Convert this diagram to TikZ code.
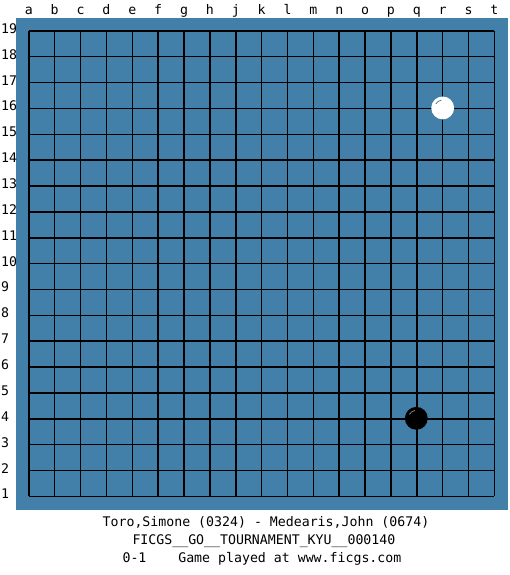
\documentclass[tikz,border=0pt]{standalone}
\usepackage{fontspec}
\setmonofont{DejaVu Sans Mono}
\definecolor{boardblue}{RGB}{66,128,170}
\tikzset{
  lbl/.style={font=\ttfamily\fontsize{13.3}{13.3}\selectfont,inner sep=0pt,anchor=base},
  stone/.style={circle,minimum size=23pt,inner sep=0pt}
}
\begin{document}
\begin{tikzpicture}[x=1pt,y=-1pt]
\useasboundingbox (0,0) rectangle (512,578);
\fill[boardblue] (16,18) rectangle (511,513);

\foreach \i in {0,...,18} {
  \draw[line width=1.5pt] (29+26*\i,31) -- (29+26*\i,499);
  \draw[line width=1.5pt] (29,31+26*\i) -- (497,31+26*\i);
}

\foreach \c [count=\i from 0] in {a,b,c,d,e,f,g,h,j,k,l,m,n,o,p,q,r,s,t}
  \node[lbl] (col\c) at (29+26*\i,14.5) {\c};
\foreach \r in {1,...,19}
  \node[lbl,anchor=base west] (row\r) at (1,31+26*19-26*\r+2.5) {\r};

\node[stone,fill=white] (wr16) at (445,108.5) {};
\draw[boardblue,line width=0.8pt] (wr16.center) ++(-100:8) arc (-100:-150:8);
\node[stone,fill=black] (bq4) at (418.5,420.5) {};
\draw[gray,line width=0.8pt] (bq4.center) ++(-100:8) arc (-100:-150:8);

\node[lbl,anchor=base west] (players) at (103,529) {Toro,Simone (0324) - Medearis,John (0674)};
\node[lbl,anchor=base west] (event) at (133,547) {FICGS\_\_GO\_\_TOURNAMENT\_KYU\_\_000140};
\node[lbl,anchor=base west] (result) at (123,565) {0-1\ \ \ \ Game played at www.ficgs.com};
\end{tikzpicture}
\end{document}
